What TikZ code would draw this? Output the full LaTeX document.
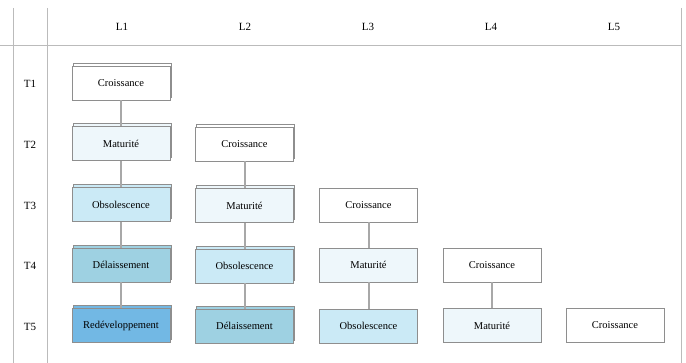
\documentclass[tikz,border=0pt]{standalone}
\usepackage{fontspec}
\setmainfont{Liberation Serif}
\usetikzlibrary{shadows}
\definecolor{gridc}{HTML}{BBBBBB}
\definecolor{boxb}{HTML}{8E8E8E}
\definecolor{conc}{HTML}{A8A8A8}
\definecolor{cCro}{HTML}{FFFFFF}
\definecolor{cMat}{HTML}{EEF7FB}
\definecolor{cObs}{HTML}{CBEAF6}
\definecolor{cDel}{HTML}{9ED1E2}
\definecolor{cRed}{HTML}{72B8E4}
\tikzset{
  stage/.style={draw=boxb, line width=0.8pt, minimum width=98pt, minimum height=34pt, inner sep=0pt, font=\fontsize{10.5}{13}\selectfont},
  stacked/.style={stage, copy shadow={shadow xshift=1pt, shadow yshift=3pt}},
  lab/.style={font=\fontsize{11}{13}\selectfont, inner sep=0pt},
  gridline/.style={draw=gridc, line width=0.8pt},
  conn/.style={draw=conc, line width=2pt}
}
\begin{document}
\begin{tikzpicture}[x=1pt,y=-1pt]
\useasboundingbox (0,0) rectangle (686,363);
% table lines
\draw[gridline] (13,8) -- (13,363);
\draw[gridline] (47,8) -- (47,363);
\draw[gridline] (681,8) -- (681,363);
\draw[gridline] (0,45) -- (681,45);
% header labels
\node[lab] (hL1) at (122,27) {L1};
\node[lab] (hL2) at (245,27) {L2};
\node[lab] (hL3) at (368,27) {L3};
\node[lab] (hL4) at (491,27) {L4};
\node[lab] (hL5) at (614,27) {L5};
\node[lab] (hT1) at (30,84) {T1};
\node[lab] (hT2) at (30,145) {T2};
\node[lab] (hT3) at (30,206) {T3};
\node[lab] (hT4) at (30,266) {T4};
\node[lab] (hT5) at (30,327) {T5};
% column L1
\node[stacked, fill=cCro] (a1) at (121,83) {Croissance};
\node[stacked, fill=cMat] (a2) at (121,143.5) {Maturité};
\node[stacked, fill=cObs] (a3) at (121,204.5) {Obsolescence};
\node[stacked, fill=cDel] (a4) at (121,265) {Délaissement};
\node[stacked, fill=cRed] (a5) at (121,325.5) {Redéveloppement};
% column L2
\node[stacked, fill=cCro] (b2) at (244.5,144) {Croissance};
\node[stacked, fill=cMat] (b3) at (244.5,205.5) {Maturité};
\node[stacked, fill=cObs] (b4) at (244.5,266) {Obsolescence};
\node[stacked, fill=cDel] (b5) at (244.5,326) {Délaissement};
% column L3
\node[stage, fill=cCro] (c3) at (368.5,205) {Croissance};
\node[stage, fill=cMat] (c4) at (368.5,265) {Maturité};
\node[stage, fill=cObs] (c5) at (368.5,326) {Obsolescence};
% column L4
\node[stage, fill=cCro] (d4) at (492,265) {Croissance};
\node[stage, fill=cMat] (d5) at (492,325.5) {Maturité};
% column L5
\node[stage, fill=cCro] (e5) at (615,325.5) {Croissance};
% connectors
\draw[conn] (a1) -- (a2);
\draw[conn] (a2) -- (a3);
\draw[conn] (a3) -- (a4);
\draw[conn] (a4) -- (a5);
\draw[conn] (b2) -- (b3);
\draw[conn] (b3) -- (b4);
\draw[conn] (b4) -- (b5);
\draw[conn] (c3) -- (c4);
\draw[conn] (c4) -- (c5);
\draw[conn] (d4) -- (d5);
\end{tikzpicture}
\end{document}
